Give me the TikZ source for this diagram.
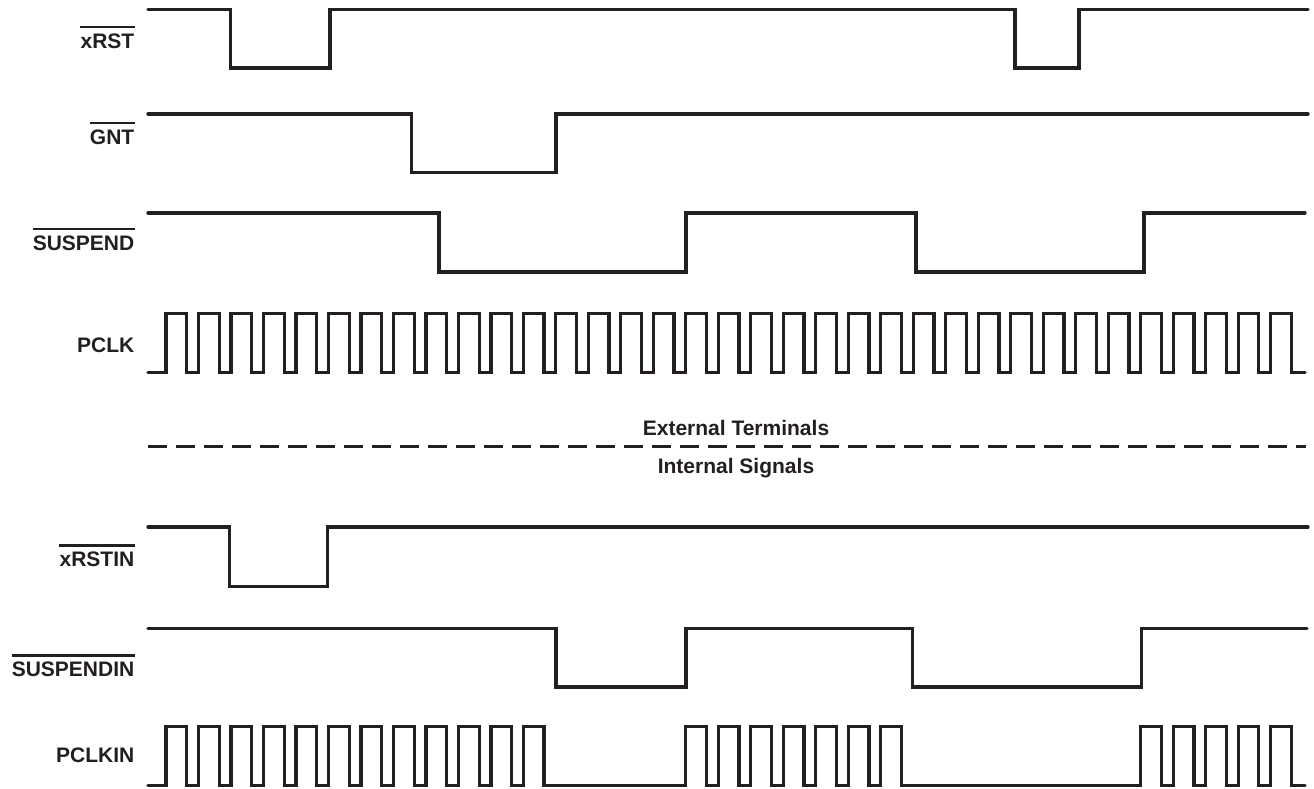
\documentclass[tikz,border=0pt]{standalone}
\usepackage{fontspec}
\setmainfont{Liberation Sans}
\definecolor{ink}{RGB}{35,31,32}
\begin{document}
\begin{tikzpicture}[x=1pt,y=-1pt,
  wave/.style={draw=ink,line width=3.2pt,line cap=round},
  lbl/.style={font=\bfseries\fontsize{21}{25}\selectfont,text=ink,inner sep=0pt,text height=15pt,text depth=0pt},
  ovl/.style={draw=ink,line width=2.5pt},
  sep/.style={draw=ink,line width=3pt,dash pattern=on 19pt off 9pt}]
\useasboundingbox (0,0) rectangle (1314,788);

% labels
\node[lbl,anchor=base east] (xrst) at (134.5,48.3) {xRST};
\node[lbl,anchor=base east] (gnt) at (134.5,144.3) {GNT};
\node[lbl,anchor=base east] (susp) at (134.5,250) {SUSPEND};
\node[lbl,anchor=base east] (pclk) at (134.5,352) {PCLK};
\node[lbl,anchor=base east] (xrstin) at (134.5,566.7) {xRSTIN};
\node[lbl,anchor=base east] (suspin) at (134.5,676.7) {SUSPENDIN};
\node[lbl,anchor=base east] (pclkin) at (134.5,762.3) {PCLKIN};
\foreach \n in {xrst,gnt,susp,xrstin,suspin}{
  \draw[ovl] ([yshift=6pt]\n.north west) -- ([yshift=6pt]\n.north east);
}

% separator
\node[lbl,anchor=base] (ext) at (736,435) {External Terminals};
\node[lbl,anchor=base] (int) at (736,473) {Internal Signals};
\draw[sep] (148,446) -- (1306,446);

% xRST
\draw[wave] (148,9.5) -- (230.7,9.5) -- (230.7,68) -- (330,68) -- (330,9.5)
  -- (1015,9.5) -- (1015,68) -- (1079,68) -- (1079,9.5) -- (1308,9.5);
% GNT
\draw[wave] (148,114) -- (411.7,114) -- (411.7,172.7) -- (556,172.7) -- (556,114) -- (1308,114);
% SUSPEND
\draw[wave] (148,213) -- (439,213) -- (439,272) -- (686,272) -- (686,213)
  -- (916,213) -- (916,272) -- (1144,272) -- (1144,213) -- (1305,213);
% PCLK
\draw[wave] (148,372.5)
  \foreach \k in {0,...,34}{
    -- ({166+\k*32.49},372.5) -- ({166+\k*32.49},313.5)
    -- ({186.7+\k*32.49},313.5) -- ({186.7+\k*32.49},372.5)}
  -- (1305,372.5);
% xRSTIN
\draw[wave] (148,527) -- (229.5,527) -- (229.5,586.5) -- (327.5,586.5) -- (327.5,527) -- (1308,527);
% SUSPENDIN
\draw[wave] (148,628.3) -- (556,628.3) -- (556,687) -- (686,687) -- (686,628.3)
  -- (912.5,628.3) -- (912.5,687) -- (1141.5,687) -- (1141.5,628.3) -- (1307,628.3);
% PCLKIN
\draw[wave] (148,785.7)
  \foreach \k in {0,1,2,3,4,5,6,7,8,9,10,11,16,17,18,19,20,21,22,30,31,32,33,34}{
    -- ({166+\k*32.49},785.7) -- ({166+\k*32.49},726.7)
    -- ({186.7+\k*32.49},726.7) -- ({186.7+\k*32.49},785.7)}
  -- (1305,785.7);
\end{tikzpicture}
\end{document}
